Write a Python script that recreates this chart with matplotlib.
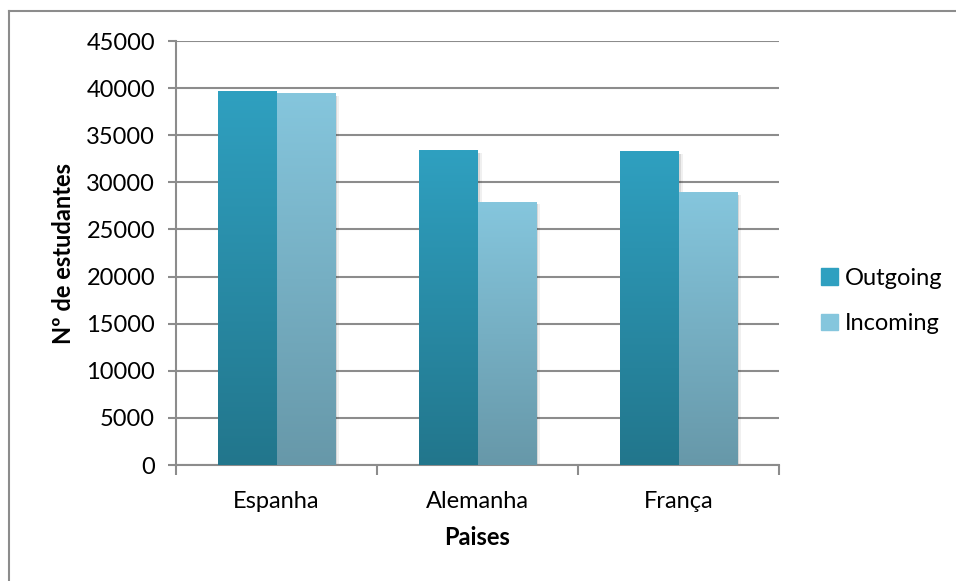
import matplotlib.pyplot as plt
import numpy as np
from matplotlib.colors import LinearSegmentedColormap
from matplotlib.lines import Line2D
from matplotlib.patches import Rectangle

plt.rcParams['font.family'] = ['Lato', 'DejaVu Sans']

paises = ['Espanha', 'Alemanha', 'França']
outgoing = [39600, 33400, 33300]
incoming = [39400, 27900, 28950]
series = ['Outgoing', 'Incoming']

# gradient colours (top, bottom)
grad = {'Outgoing': ('#2fa0c0', '#22768c'),
        'Incoming': ('#85c6dd', '#6798a9')}

fig = plt.figure(figsize=(9.56, 5.81), dpi=100)
ax = fig.add_axes([176/956, 1-465/581, 603/956, 424/581])

grid_c = '#8c8c8c'
fs = 17
ax.set_yticks(np.arange(0, 45001, 5000))
ax.yaxis.grid(True, color=grid_c, lw=1.5)
ax.set_axisbelow(True)

w = 0.29
x = np.arange(len(paises))
for k, (name, vals) in enumerate(zip(series, [outgoing, incoming])):
    top, bot = grad[name]
    cmap = LinearSegmentedColormap.from_list(name, [bot, top])
    for xi, v in zip(x, vals):
        x0 = xi - w + k * w
        # soft shadow
        for s, a in [(0.012, 0.10), (0.022, 0.06)]:
            ax.add_patch(Rectangle((x0 + s, -250), w, v, color='black',
                                   alpha=a, lw=0, zorder=2))
        g = np.linspace(0, 1, 256).reshape(-1, 1)
        ax.imshow(g, cmap=cmap, origin='lower', aspect='auto',
                  extent=[x0, x0 + w, 0, v], zorder=3 + k)
ax.set_xlim(-0.5, 2.5)
ax.set_ylim(0, 45000)

ax.set_xticks(x)
ax.set_xticklabels(paises)
ax.set_xticks([-0.5, 0.5, 1.5, 2.5], minor=True)
ax.tick_params(axis='x', which='major', length=0, pad=19, labelsize=fs)
ax.tick_params(axis='x', which='minor', length=7, width=1.5, color=grid_c)
ax.tick_params(axis='y', length=6, width=1.5, color=grid_c, labelsize=fs, pad=9)

for s in ['top', 'right']:
    ax.spines[s].set_visible(False)
for s in ['left', 'bottom']:
    ax.spines[s].set_color(grid_c)
    ax.spines[s].set_linewidth(1.5)

ax.set_xlabel('Paises', fontsize=fs, fontweight='bold', labelpad=10)
ax.set_ylabel('Nº de estudantes', fontsize=fs, fontweight='bold', labelpad=8)

handles = [Rectangle((0, 0), 1, 1, color=grad[n][0]) for n in series]
fig.legend(handles, series, loc='center left', bbox_to_anchor=(0.837, 0.482),
           frameon=False, fontsize=fs, handlelength=0.7, handleheight=0.7,
           handletextpad=0.3, labelspacing=1.05)

# outer chart border (left and top only visible)
fig.add_artist(Line2D([9/956, 9/956], [0, 1-11/581], transform=fig.transFigure,
                      color=grid_c, lw=1.5))
fig.add_artist(Line2D([9/956, 1], [1-11/581, 1-11/581], transform=fig.transFigure,
                      color=grid_c, lw=1.5))

fig.savefig('out.png', dpi=100)
